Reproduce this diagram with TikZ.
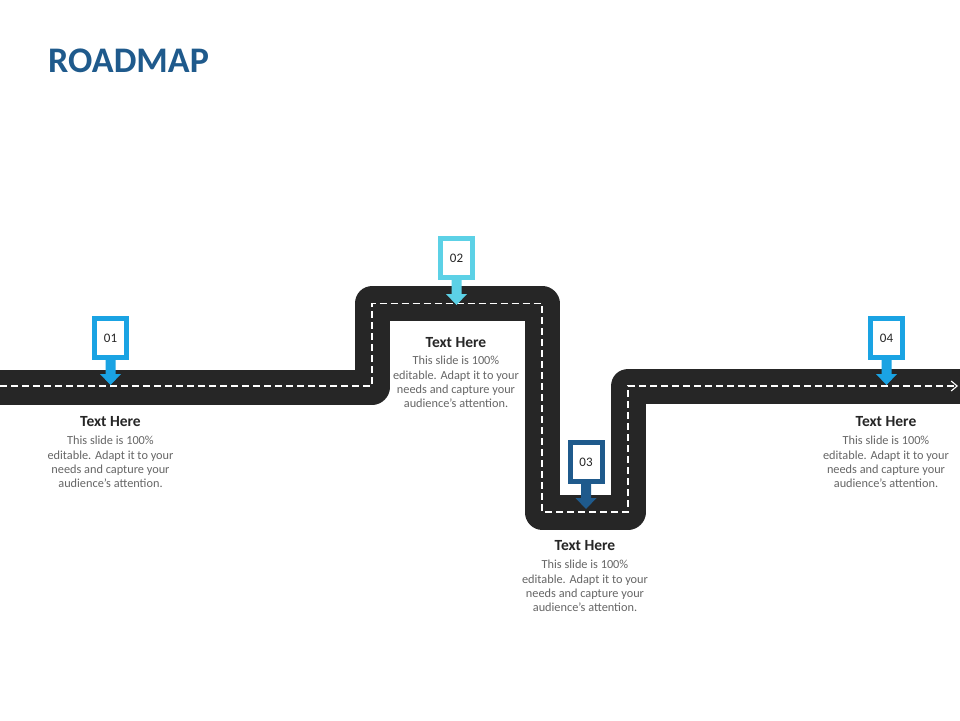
\documentclass[tikz,border=0pt]{standalone}
\usepackage{fontspec}
\setmainfont{Carlito}
\usetikzlibrary{arrows.meta,calc}
\definecolor{roadc}{HTML}{262626}
\definecolor{titlec}{HTML}{1F5A8C}
\definecolor{mblue}{HTML}{1AA3E3}
\definecolor{mcyan}{HTML}{5CD1E6}
\definecolor{mdark}{HTML}{1F5A8C}
\definecolor{headc}{HTML}{262626}
\definecolor{bodyc}{HTML}{666666}
\tikzset{
  road/.style={draw=roadc, line width=35pt, line join=round},
  lane/.style={draw=white, line width=1.1pt, dash pattern=on 7pt off 4pt},
  markbox/.style={draw=#1, line width=5pt, fill=white, minimum width=32pt, minimum height=39pt, inner sep=0pt, font=\fontsize{13}{15}\selectfont, text=headc},
  head/.style={font=\fontsize{15.5}{18}\selectfont\bfseries, text=headc},
  body/.style={font=\fontsize{12.3}{14.4}\selectfont, text=bodyc, align=center},
}
\newcommand{\markerarrow}[2]{%
  \fill[#2] ($(#1.south)+(-5,0)$) -- ++(0,14) -- ++(-5.5,0) -- ++(10.5,11) -- ++(10.5,-11) -- ++(-5.5,0) -- ++(0,-14) -- cycle;}
\begin{document}
\begin{tikzpicture}[x=1pt,y=-1pt]
\useasboundingbox (0,0) rectangle (960,720);
\fill[white] (0,0) rectangle (960,720);
\node[anchor=base west, font=\fontsize{36}{40}\selectfont\bfseries, text=titlec, inner sep=0pt] (title) at (48,72) {ROADMAP};
\begin{scope}
\clip (0,0) rectangle (960,720);
\coordinate (r0) at (-30,387);
\coordinate (r1) at (372,387);
\coordinate (r2) at (372,303.5);
\coordinate (r3) at (542,303.5);
\coordinate (r4) at (542,512);
\coordinate (r5) at (628,512);
\coordinate (r6) at (628,386);
\coordinate (r7) at (990,386);
\coordinate (l0) at (0,386);
\coordinate (l7) at (958,386);
\draw[road] (r0) -- (r1) -- (r2) -- (r3) -- (r4) -- (r5) -- (r6) -- (r7);
\draw[lane, -{Straight Barb[length=6pt,width=10pt]}] (l0) -| (r2) -- (r3) -- (r4) -- (r5) -- (r6) -- (l7);
\end{scope}
% markers
\node[markbox=mblue] (m1) at (110.5,338) {01};
\node[markbox=mcyan] (m2) at (456.5,258) {02};
\node[markbox=mdark] (m3) at (586,462) {03};
\node[markbox=mblue] (m4) at (886.5,338) {04};
\markerarrow{m1}{mblue}
\markerarrow{m2}{mcyan}
\markerarrow{m3}{mdark}
\markerarrow{m4}{mblue}
% texts
\node[head] (h1) at (110.5,422) {Text Here};
\node[body] (b1) at (110.5,462) {This slide is 100\%\\editable. Adapt it to your\\needs and capture your\\audience's attention.};
\node[head] (h2) at (456,343) {Text Here};
\node[body] (b2) at (456,382) {This slide is 100\%\\editable. Adapt it to your\\needs and capture your\\audience's attention.};
\node[head] (h3) at (585,546) {Text Here};
\node[body] (b3) at (585,586) {This slide is 100\%\\editable. Adapt it to your\\needs and capture your\\audience's attention.};
\node[head] (h4) at (886,422) {Text Here};
\node[body] (b4) at (886,462) {This slide is 100\%\\editable. Adapt it to your\\needs and capture your\\audience's attention.};
\end{tikzpicture}
\end{document}
